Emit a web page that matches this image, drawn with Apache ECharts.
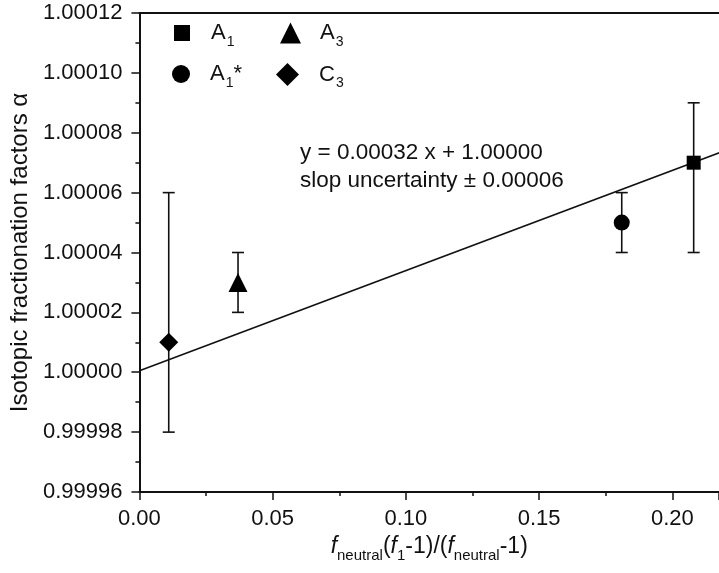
<!DOCTYPE html>
<html>
<head>
<meta charset="utf-8">
<script src="https://cdn.jsdelivr.net/npm/echarts@6/dist/echarts.min.js"></script>
<style>
  html, body { margin: 0; padding: 0; background: #fff; }
  #chart { width: 719px; height: 573px; }
</style>
</head>
<body>
<div id="chart"></div>
<script>
  // sample points
  var names = ['A1', 'A1*', 'A3', 'C3'];
  var xVals = [0.208, 0.181, 0.037, 0.011];
  var yVals = [1.00007, 1.00005, 1.00003, 1.00001];
  var yLow = [1.00004, 1.00004, 1.00002, 0.99998];
  var yHigh = [1.00009, 1.00006, 1.00004, 1.00006];
  var symbols = ['rect', 'circle', 'triangle', 'diamond'];
  var symbolSizes = [14, 16, 19, 19];

  // linear fit, two ends of the drawn line
  var fitX = [0, 0.22];
  var fitY = [1.0000005, 1.0000741];

  var fontFam = 'Liberation Sans, Arial, sans-serif';
  var ink = '#111';

  var legendRich = {
    n: { fontSize: 22, color: ink, fontFamily: fontFam },
    s: { fontSize: 14, color: ink, fontFamily: fontFam, verticalAlign: 'bottom', padding: [0, 0, -5, 1] }
  };
  var legendLabel = {
    'A1': '{n|A}{s|1}',
    'A1*': '{n|A}{s|1}{n|*}',
    'A3': '{n|A}{s|3}',
    'C3': '{n|C}{s|3}'
  };
  // legend items: [name, icon size, left, top, text offset]
  var legendItems = [
    ['A1', 16, 169, 17, 16],
    ['A3', 21, 275, 17, 14],
    ['A1*', 18, 167, 58, 15],
    ['C3', 23, 271, 58, 15]
  ];

  var myChart = echarts.init(document.getElementById('chart'));

  var series = [];
  // error bars
  series.push({
    type: 'custom',
    name: 'err',
    silent: true,
    z: 2,
    data: xVals.map(function (x, i) { return [x, yLow[i], yHigh[i]]; }),
    renderItem: function (params, api) {
      var lo = api.coord([api.value(0), api.value(1)]);
      var hi = api.coord([api.value(0), api.value(2)]);
      var cap = 6;
      var st = { stroke: ink, lineWidth: 1.6 };
      return {
        type: 'group',
        children: [
          { type: 'line', shape: { x1: lo[0], y1: lo[1], x2: hi[0], y2: hi[1] }, style: st },
          { type: 'line', shape: { x1: lo[0] - cap, y1: lo[1], x2: lo[0] + cap, y2: lo[1] }, style: st },
          { type: 'line', shape: { x1: hi[0] - cap, y1: hi[1], x2: hi[0] + cap, y2: hi[1] }, style: st }
        ]
      };
    }
  });
  // fit line
  series.push({
    type: 'line',
    name: 'fit',
    silent: true,
    symbol: 'none',
    z: 3,
    data: fitX.map(function (x, i) { return [x, fitY[i]]; }),
    lineStyle: { color: ink, width: 1.6 }
  });
  // points
  names.forEach(function (nm, i) {
    series.push({
      type: 'scatter',
      name: nm,
      symbol: symbols[i],
      symbolSize: symbolSizes[i],
      z: 4,
      data: [[xVals[i], yVals[i]]],
      itemStyle: { color: '#000', opacity: 1 }
    });
  });

  var legends = legendItems.map(function (it) {
    return {
      data: [it[0]],
      left: it[2],
      top: it[3],
      itemWidth: it[1],
      itemHeight: it[1],
      selectedMode: false,
      formatter: function (name) { return legendLabel[name]; },
      textStyle: { rich: legendRich, padding: [0, 0, 0, it[4]] }
    };
  });

  var tickStyle = { color: ink, width: 1.5 };
  var xMax = 0.2175;

  var option = {
    animation: false,
    backgroundColor: '#fff',
    grid: { left: 137, top: 13, right: 0, height: 479 },
    legend: legends,
    graphic: [
      {
        type: 'text', left: 300, top: 139,
        style: {
          text: 'y = 0.00032 x + 1.00000\nslop uncertainty \u00b1 0.00006',
          font: '22.5px ' + fontFam, fill: ink, lineHeight: 28
        }
      }
    ],
    xAxis: [{
      type: 'value',
      min: 0, max: xMax, interval: 0.05,
      name: '{i|f}{s|neutral}{n|(}{i|f}{s|1}{n|-1)/(}{i|f}{s|neutral}{n|-1)}',
      nameLocation: 'middle',
      nameGap: 41,
      nameTextStyle: {
        rich: {
          n: { fontSize: 23, color: ink, fontFamily: fontFam },
          i: { fontSize: 23, color: ink, fontFamily: fontFam, fontStyle: 'italic' },
          s: { fontSize: 15, color: ink, fontFamily: fontFam, verticalAlign: 'bottom', padding: [0, 0, -5, 0] }
        }
      },
      axisLine: { onZero: false, lineStyle: { color: ink, width: 2 } },
      axisTick: { length: 8, lineStyle: tickStyle },
      minorTick: { show: true, splitNumber: 2, length: 4, lineStyle: tickStyle },
      splitLine: { show: false },
      axisLabel: {
        color: ink, fontSize: 22, fontFamily: fontFam, margin: 16,
        showMaxLabel: false,
        formatter: function (v) { return v.toFixed(2); }
      }
    }, {
      // top frame line
      type: 'value',
      position: 'top',
      min: 0, max: xMax,
      axisLine: { show: true, onZero: false, lineStyle: { color: ink, width: 2 } },
      axisTick: { show: false },
      axisLabel: { show: false },
      splitLine: { show: false }
    }],
    yAxis: {
      type: 'value',
      min: 0.99996, max: 1.00012, interval: 0.00002,
      name: 'Isotopic fractionation factors \u03b1',
      nameLocation: 'middle',
      nameGap: 91,
      nameTextStyle: { color: ink, fontSize: 24, fontFamily: fontFam },
      axisLine: { onZero: false, lineStyle: { color: ink, width: 2 } },
      axisTick: { length: 8, lineStyle: tickStyle },
      minorTick: { show: true, splitNumber: 2, length: 4, lineStyle: tickStyle },
      splitLine: { show: false },
      axisLabel: {
        color: ink, fontSize: 22, fontFamily: fontFam, margin: 17,
        formatter: function (v) { return v.toFixed(5); }
      }
    },
    series: series
  };

  myChart.setOption(option);
</script>
</body>
</html>
